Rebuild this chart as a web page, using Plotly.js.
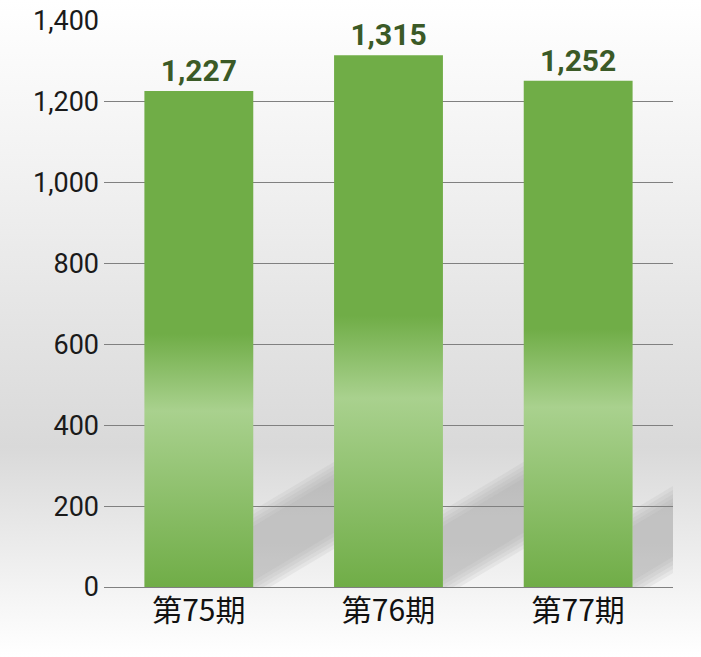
<!DOCTYPE html>
<html>
<head>
<meta charset="utf-8">
<script src="https://cdn.plot.ly/plotly-3.0.1.min.js"></script>
<style>
  html, body { margin: 0; padding: 0; }
  #chart {
    width: 701px; height: 657px;
    background: linear-gradient(to bottom, #ffffff 0%, #f2f2f2 25%, #d9d9d9 68%, #f4f4f4 90%, #ffffff 100%);
  }
</style>
</head>
<body>
<div id="chart"></div>
<script>
// 期ごとの値
const periods = ['第75期', '第76期', '第77期'];
const values = [1227, 1315, 1252];
const yTickVals = [0, 200, 400, 600, 800, 1000, 1200, 1400];

const BAR_GAP = 0.426;
const BAR_DARK = '#70ad47';
const BAR_LIGHT = '#a9d18e';
const LABEL_GREEN = '#3b5a27';
const NUM_FONT = 'Roboto, "DejaVu Sans", sans-serif';

// soft diagonal shadows to the right of each bar (stacked for a blurred edge)
function shadowShapes() {
    const hw = (1 - BAR_GAP) / 2;
    const rise = 280;   // value units per category step
    const shapes = [];
    periods.forEach((p, i) => {
        const xa = i + hw, xb = xa + 0.75;
        [0, 10, 20, 30, 40].forEach(inset => {
            const b0 = -25 + inset, t0 = 190 - inset;
            const path = 'M' + xa + ',' + b0 + ' L' + xb + ',' + (b0 + rise * 0.75) +
                ' L' + xb + ',' + (t0 + rise * 0.75) + ' L' + xa + ',' + t0 + ' Z';
            shapes.push({ type: 'path', xref: 'x', yref: 'y', path: path, layer: 'below',
                fillcolor: '#a0a0a0', opacity: 0.14, line: { width: 0 } });
        });
    });
    return shapes;
}

const trace = {
    x: periods, y: values, type: 'bar',
    marker: { color: BAR_DARK, line: { width: 0 } },
    text: values.map(v => v.toLocaleString('en-US')),
    textposition: 'outside', cliponaxis: false,
    textfont: { family: NUM_FONT, size: 30, color: LABEL_GREEN, weight: 'bold' },
    hoverinfo: 'skip',
};

const layout = {
    width: 701, height: 657,
    margin: { l: 103.5, r: 27.5, t: 21, b: 70 },
    paper_bgcolor: 'rgba(0,0,0,0)', plot_bgcolor: 'rgba(0,0,0,0)',
    bargap: BAR_GAP,
    showlegend: false,
    xaxis: {
        type: 'category', range: [-0.5, periods.length - 0.5],
        showgrid: false, zeroline: false, showline: false, ticks: '',
        ticklabelstandoff: 3,
        tickfont: { family: '"Noto Sans CJK JP", sans-serif', size: 30, color: '#111111' },
    },
    yaxis: {
        range: [0, 1400], tickvals: yTickVals, tickformat: ',d',
        showgrid: true, gridcolor: '#808080', gridwidth: 1,
        zeroline: true, zerolinecolor: '#808080', zerolinewidth: 1,
        showline: false, ticks: '', ticklabelstandoff: 4,
        tickfont: { family: NUM_FONT, size: 27, color: '#1a1a1a' },
    },
    shapes: shadowShapes(),
};

const config = { displayModeBar: false, staticPlot: true };

Plotly.newPlot('chart', [trace], layout, config).then(gd => {
    // vertical gradient on each bar (dark top, light band, dark bottom)
    const svgNS = 'http://www.w3.org/2000/svg';
    const defs = gd.querySelector('svg.main-svg defs');
    const grad = document.createElementNS(svgNS, 'linearGradient');
    grad.setAttribute('id', 'barGrad');
    grad.setAttribute('x1', '0'); grad.setAttribute('y1', '0');
    grad.setAttribute('x2', '0'); grad.setAttribute('y2', '1');
    [[0, BAR_DARK], [0.49, BAR_DARK], [0.645, BAR_LIGHT], [1, BAR_DARK]].forEach(([o, c]) => {
        const s = document.createElementNS(svgNS, 'stop');
        s.setAttribute('offset', o);
        s.setAttribute('stop-color', c);
        grad.appendChild(s);
    });
    defs.appendChild(grad);
    gd.querySelectorAll('.trace.bars .point path').forEach(p => { p.style.fill = 'url(#barGrad)'; });
});
</script>
</body>
</html>
